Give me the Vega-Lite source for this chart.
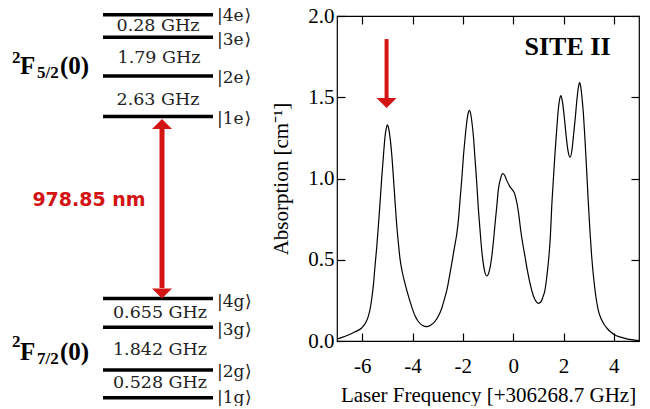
{
  "$schema": "https://vega.github.io/schema/vega-lite/v6.json",
  "padding": {"left": 0, "top": 4, "right": 5, "bottom": 0},
  "spacing": 20,
  "bounds": "flush",
  "datasets": {
    "levels": [
      {"state": "4e", "px": 103, "px2": 213, "h": 326.3},
      {"state": "3e", "px": 103, "px2": 213, "h": 303.8},
      {"state": "2e", "px": 103, "px2": 213, "h": 265},
      {"state": "1e", "px": 103, "px2": 213, "h": 224.5},
      {"state": "4g", "px": 103, "px2": 213, "h": 42.5},
      {"state": "3g", "px": 103, "px2": 213, "h": 13.7},
      {"state": "2g", "px": 103, "px2": 213, "h": -29},
      {"state": "1g", "px": 103, "px2": 213, "h": -56.7}
    ],
    "gaps": [
      {"label": "0.28 GHz", "px": 158, "h": 315},
      {"label": "1.79 GHz", "px": 159, "h": 283},
      {"label": "2.63 GHz", "px": 158, "h": 241},
      {"label": "0.655 GHz", "px": 160, "h": 28},
      {"label": "1.842 GHz", "px": 160, "h": -9},
      {"label": "0.528 GHz", "px": 160, "h": -42}
    ],
    "kets": [
      {"label": "|4e", "px": 217, "h": 325},
      {"label": "|3e", "px": 217, "h": 301},
      {"label": "|2e", "px": 217, "h": 263},
      {"label": "|1e", "px": 217, "h": 222},
      {"label": "|4g", "px": 217, "h": 39},
      {"label": "|3g", "px": 217, "h": 11},
      {"label": "|2g", "px": 217, "h": -31},
      {"label": "|1g", "px": 217, "h": -57}
    ],
    "ketEnds": [
      {"label": "⟩", "px": 244.5, "h": 325},
      {"label": "⟩", "px": 244.5, "h": 301},
      {"label": "⟩", "px": 244.5, "h": 263},
      {"label": "⟩", "px": 244.5, "h": 222},
      {"label": "⟩", "px": 245, "h": 39},
      {"label": "⟩", "px": 245, "h": 11},
      {"label": "⟩", "px": 245, "h": -31},
      {"label": "⟩", "px": 245, "h": -57}
    ],
    "termBig": [
      {"label": "F", "px": 20, "h": 267},
      {"label": "(0)", "px": 60, "h": 267},
      {"label": "F", "px": 20, "h": -19},
      {"label": "(0)", "px": 60, "h": -19}
    ],
    "termSub": [
      {"label": "5/2", "px": 37, "h": 263},
      {"label": "7/2", "px": 37, "h": -23}
    ],
    "termSup": [
      {"label": "2", "px": 12, "h": 278},
      {"label": "2", "px": 12, "h": -6}
    ],
    "transArrow": [
      {"px": 162, "h": 213, "h2": 53}
    ],
    "headUp": [
      {"px": 162, "h": 222}
    ],
    "headDown": [
      {"px": 162, "h": 42.5}
    ],
    "wavelength": [
      {"label": "978.85 nm", "px": 89, "h": 141}
    ],
    "spectrum": [
      {"f": -7.0, "a": 0.012}, {"f": -6.8, "a": 0.022}, {"f": -6.55, "a": 0.037}, {"f": -6.3, "a": 0.055},
      {"f": -6.02, "a": 0.08}, {"f": -5.85, "a": 0.115}, {"f": -5.76, "a": 0.15}, {"f": -5.68, "a": 0.2},
      {"f": -5.62, "a": 0.26}, {"f": -5.55, "a": 0.35}, {"f": -5.49, "a": 0.46}, {"f": -5.42, "a": 0.58},
      {"f": -5.36, "a": 0.7}, {"f": -5.29, "a": 0.85}, {"f": -5.22, "a": 1.01}, {"f": -5.15, "a": 1.15},
      {"f": -5.09, "a": 1.26}, {"f": -5.04, "a": 1.31}, {"f": -5.0, "a": 1.33}, {"f": -4.95, "a": 1.31},
      {"f": -4.89, "a": 1.25}, {"f": -4.82, "a": 1.14}, {"f": -4.76, "a": 1.01}, {"f": -4.69, "a": 0.85},
      {"f": -4.63, "a": 0.72}, {"f": -4.56, "a": 0.6}, {"f": -4.5, "a": 0.51}, {"f": -4.4, "a": 0.42},
      {"f": -4.3, "a": 0.355}, {"f": -4.15, "a": 0.27}, {"f": -4.03, "a": 0.21}, {"f": -3.9, "a": 0.155},
      {"f": -3.77, "a": 0.12}, {"f": -3.6, "a": 0.095}, {"f": -3.44, "a": 0.088}, {"f": -3.3, "a": 0.095},
      {"f": -3.11, "a": 0.12}, {"f": -2.95, "a": 0.16}, {"f": -2.84, "a": 0.2}, {"f": -2.71, "a": 0.27},
      {"f": -2.64, "a": 0.31}, {"f": -2.54, "a": 0.39}, {"f": -2.44, "a": 0.478}, {"f": -2.34, "a": 0.57},
      {"f": -2.24, "a": 0.66}, {"f": -2.16, "a": 0.77}, {"f": -2.11, "a": 0.87}, {"f": -2.04, "a": 1.0},
      {"f": -1.98, "a": 1.13}, {"f": -1.91, "a": 1.25}, {"f": -1.85, "a": 1.34}, {"f": -1.79, "a": 1.4},
      {"f": -1.74, "a": 1.42}, {"f": -1.69, "a": 1.4}, {"f": -1.65, "a": 1.36}, {"f": -1.58, "a": 1.26},
      {"f": -1.52, "a": 1.13}, {"f": -1.45, "a": 0.98}, {"f": -1.39, "a": 0.83}, {"f": -1.32, "a": 0.69},
      {"f": -1.25, "a": 0.56}, {"f": -1.16, "a": 0.45}, {"f": -1.05, "a": 0.4}, {"f": -0.95, "a": 0.43},
      {"f": -0.85, "a": 0.52}, {"f": -0.78, "a": 0.62}, {"f": -0.72, "a": 0.72}, {"f": -0.65, "a": 0.83},
      {"f": -0.59, "a": 0.93}, {"f": -0.5, "a": 1.0}, {"f": -0.42, "a": 1.03}, {"f": -0.34, "a": 1.02},
      {"f": -0.26, "a": 0.99}, {"f": -0.13, "a": 0.95}, {"f": -0.03, "a": 0.93}, {"f": 0.05, "a": 0.91},
      {"f": 0.12, "a": 0.87}, {"f": 0.16, "a": 0.84}, {"f": 0.23, "a": 0.77}, {"f": 0.3, "a": 0.68},
      {"f": 0.38, "a": 0.6}, {"f": 0.47, "a": 0.52}, {"f": 0.57, "a": 0.43}, {"f": 0.67, "a": 0.355},
      {"f": 0.8, "a": 0.28}, {"f": 0.9, "a": 0.245}, {"f": 1.0, "a": 0.232}, {"f": 1.1, "a": 0.24},
      {"f": 1.18, "a": 0.27}, {"f": 1.26, "a": 0.31}, {"f": 1.34, "a": 0.4}, {"f": 1.42, "a": 0.52},
      {"f": 1.48, "a": 0.65}, {"f": 1.53, "a": 0.82}, {"f": 1.6, "a": 1.0}, {"f": 1.66, "a": 1.15},
      {"f": 1.73, "a": 1.3}, {"f": 1.79, "a": 1.42}, {"f": 1.85, "a": 1.49}, {"f": 1.9, "a": 1.51},
      {"f": 1.96, "a": 1.47}, {"f": 2.03, "a": 1.38}, {"f": 2.1, "a": 1.27}, {"f": 2.18, "a": 1.17},
      {"f": 2.26, "a": 1.13}, {"f": 2.34, "a": 1.18}, {"f": 2.4, "a": 1.27}, {"f": 2.46, "a": 1.36},
      {"f": 2.53, "a": 1.48}, {"f": 2.59, "a": 1.56}, {"f": 2.64, "a": 1.59}, {"f": 2.69, "a": 1.56},
      {"f": 2.74, "a": 1.49}, {"f": 2.79, "a": 1.4}, {"f": 2.85, "a": 1.25}, {"f": 2.92, "a": 1.05},
      {"f": 2.98, "a": 0.87}, {"f": 3.05, "a": 0.68}, {"f": 3.12, "a": 0.52}, {"f": 3.19, "a": 0.4},
      {"f": 3.28, "a": 0.28}, {"f": 3.38, "a": 0.19}, {"f": 3.5, "a": 0.135}, {"f": 3.62, "a": 0.1},
      {"f": 3.72, "a": 0.08}, {"f": 3.88, "a": 0.055}, {"f": 4.04, "a": 0.037}, {"f": 4.24, "a": 0.025},
      {"f": 4.44, "a": 0.016}, {"f": 4.7, "a": 0.008}, {"f": 5.0, "a": 0.002}
    ],
    "siteArrow": [{"f": -5.03, "a": 1.858, "a2": 1.49}],
    "siteHead": [{"f": -5.03, "a": 1.434}],
    "siteLabel": [{"label": "SITE II", "f": 2.16, "a": 1.81}]
  },
  "hconcat": [
    {
      "width": 317,
      "height": 325,
      "encoding": {
        "x": {"field": "px", "type": "quantitative", "scale": {"domain": [0, 317], "nice": false, "zero": false}, "axis": null},
        "y": {"field": "h", "type": "quantitative", "scale": {"domain": [0, 325], "nice": false, "zero": false}, "axis": null}
      },
      "layer": [
        {
          "data": {"name": "levels"},
          "mark": {"type": "rule", "color": "black", "strokeWidth": 3.5},
          "encoding": {"x2": {"field": "px2"}}
        },
        {
          "data": {"name": "gaps"},
          "mark": {"type": "text", "font": "DejaVu Serif", "fontSize": 17.5, "align": "center", "baseline": "middle", "color": "#222"},
          "encoding": {"text": {"field": "label"}}
        },
        {
          "data": {"name": "kets"},
          "mark": {"type": "text", "font": "DejaVu Serif", "fontSize": 17, "align": "left", "baseline": "middle", "color": "#222"},
          "encoding": {"text": {"field": "label"}}
        },
        {
          "data": {"name": "ketEnds"},
          "mark": {"type": "text", "font": "DejaVu Sans", "fontSize": 17, "align": "left", "baseline": "middle", "color": "#222"},
          "encoding": {"text": {"field": "label"}}
        },
        {
          "data": {"name": "termBig"},
          "mark": {"type": "text", "font": "Liberation Serif", "fontWeight": "bold", "fontSize": 25, "align": "left", "baseline": "alphabetic", "color": "black"},
          "encoding": {"text": {"field": "label"}}
        },
        {
          "data": {"name": "termSub"},
          "mark": {"type": "text", "font": "Liberation Serif", "fontWeight": "bold", "fontSize": 17, "align": "left", "baseline": "alphabetic", "color": "black"},
          "encoding": {"text": {"field": "label"}}
        },
        {
          "data": {"name": "termSup"},
          "mark": {"type": "text", "font": "Liberation Serif", "fontWeight": "bold", "fontSize": 17, "align": "left", "baseline": "alphabetic", "color": "black"},
          "encoding": {"text": {"field": "label"}}
        },
        {
          "data": {"name": "transArrow"},
          "mark": {"type": "rule", "color": "#d41414", "strokeWidth": 5},
          "encoding": {"y2": {"field": "h2"}}
        },
        {
          "data": {"name": "headUp"},
          "mark": {"type": "point", "shape": "M0,0L-1,1L1,1Z", "size": 400, "filled": true, "color": "#d41414", "opacity": 1, "strokeWidth": 0},
          "encoding": {}
        },
        {
          "data": {"name": "headDown"},
          "mark": {"type": "point", "shape": "M0,0L-1,-1L1,-1Z", "size": 400, "filled": true, "color": "#d41414", "opacity": 1, "strokeWidth": 0},
          "encoding": {}
        },
        {
          "data": {"name": "wavelength"},
          "mark": {"type": "text", "font": "DejaVu Sans", "fontWeight": "bold", "fontSize": 19, "align": "center", "baseline": "middle", "color": "#d41414"},
          "encoding": {"text": {"field": "label"}}
        }
      ]
    },
    {
      "width": 302,
      "height": 325,
      "view": {"stroke": "black", "strokeWidth": 1.2},
      "layer": [
        {
          "data": {"name": "spectrum"},
          "mark": {"type": "line", "color": "black", "strokeWidth": 1.2, "interpolate": "monotone"},
          "encoding": {
            "x": {"field": "f", "type": "quantitative", "scale": {"domain": [-7, 5], "nice": false, "zero": false},
              "axis": {"orient": "bottom", "values": [-6, -4, -2, 0, 2, 4], "labelExpr": "datum.value", "tickSize": -8, "labelPadding": 22, "title": "Laser Frequency [+306268.7 GHz]", "titlePadding": 8}},
            "y": {"field": "a", "type": "quantitative", "scale": {"domain": [0, 2], "nice": false, "zero": false},
              "axis": {"orient": "left", "values": [0, 0.5, 1, 1.5, 2], "labelExpr": "format(datum.value, '.1f')", "tickSize": -8, "labelPadding": 11, "title": "Absorption [cm⁻¹]", "titlePadding": 16}}
          }
        },
        {
          "data": {"name": "spectrum"},
          "mark": {"type": "line", "opacity": 0},
          "encoding": {
            "x": {"field": "f", "type": "quantitative", "scale": {"domain": [-7, 5], "nice": false, "zero": false},
              "axis": {"orient": "top", "values": [-6, -4, -2, 0, 2, 4], "labels": false, "title": null, "tickSize": -8}},
            "y": {"field": "a", "type": "quantitative", "scale": {"domain": [0, 2], "nice": false, "zero": false},
              "axis": {"orient": "right", "values": [0, 0.5, 1, 1.5, 2], "labels": false, "title": null, "tickSize": -8}}
          }
        },
        {
          "data": {"name": "siteArrow"},
          "mark": {"type": "rule", "color": "#d41414", "strokeWidth": 4},
          "encoding": {
            "x": {"field": "f", "type": "quantitative", "axis": null},
            "y": {"field": "a", "type": "quantitative", "axis": null},
            "y2": {"field": "a2"}
          }
        },
        {
          "data": {"name": "siteHead"},
          "mark": {"type": "point", "shape": "M0,0L-1,-1L1,-1Z", "size": 400, "filled": true, "color": "#d41414", "opacity": 1, "strokeWidth": 0},
          "encoding": {
            "x": {"field": "f", "type": "quantitative", "axis": null},
            "y": {"field": "a", "type": "quantitative", "axis": null}
          }
        },
        {
          "data": {"name": "siteLabel"},
          "mark": {"type": "text", "font": "Liberation Serif", "fontWeight": "bold", "fontSize": 26, "align": "center", "baseline": "middle", "color": "black"},
          "encoding": {
            "x": {"field": "f", "type": "quantitative", "axis": null},
            "y": {"field": "a", "type": "quantitative", "axis": null},
            "text": {"field": "label"}
          }
        }
      ],
      "resolve": {"axis": {"x": "independent", "y": "independent"}}
    }
  ],
  "config": {
    "view": {"stroke": null},
    "axis": {
      "labelFont": "Liberation Serif", "labelFontSize": 21, "labelColor": "black",
      "titleFont": "Liberation Serif", "titleFontSize": 21, "titleFontWeight": "normal", "titleColor": "black",
      "tickColor": "black", "tickWidth": 1.2, "domain": false, "grid": false
    }
  }
}
